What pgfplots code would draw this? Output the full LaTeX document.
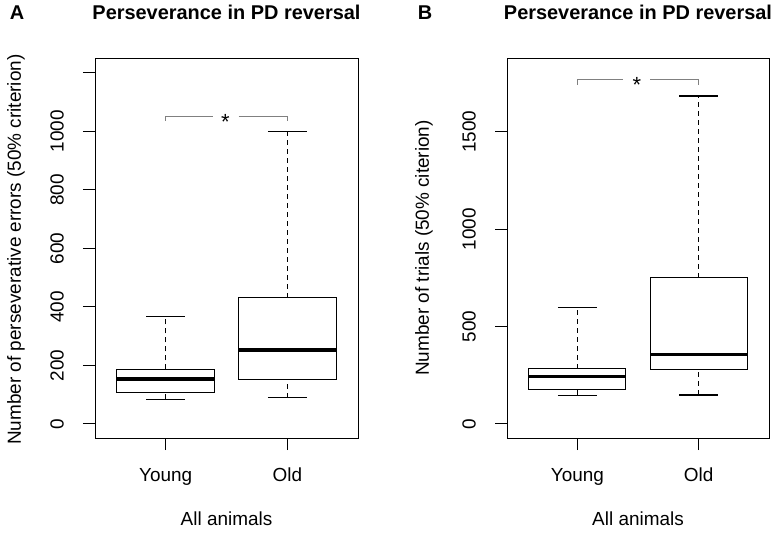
\documentclass[border=0pt]{standalone}
\usepackage{fontspec}
\setmainfont{Liberation Sans}
\usepackage{pgfplots}
\pgfplotsset{compat=1.18}
\usepgfplotslibrary{statistics}

\pgfplotsset{
  rbox/.style={
    scale only axis, height=380bp,
    anchor=south west,
    axis line style={line width=1bp},
    xmin=0.42, xmax=2.58,
    xtick={1,2}, xticklabels={Young,Old},
    xtick pos=bottom, ytick pos=left,
    tick align=outside, major tick length=12bp,
    every tick/.style={line width=1bp, black},
    font=\fontsize{19}{22}\selectfont,
    /pgf/number format/assume math mode=true,
    /pgf/number format/1000 sep={},
    yticklabel style={rotate=90, anchor=south, inner sep=0pt},
    xticklabel style={anchor=north, inner sep=0pt},
    yticklabel shift=19bp,
    xticklabel shift=18bp,
    clip=false,
    boxplot/draw direction=y,
  },
  rplot/.style={
    black, line width=1.1bp, solid,
    boxplot/every median/.style={line width=3.6bp},
    boxplot/box extend=0.8,
    boxplot/whisker extend=0.32,
    boxplot/draw/lower whisker/.code={%
      \draw[dash pattern=on 5bp off 4bp] (boxplot box cs:\pgfplotsboxplotvalue{lower whisker},0.5) -- (boxplot box cs:\pgfplotsboxplotvalue{lower quartile},0.5);
      \draw (boxplot whisker cs:\pgfplotsboxplotvalue{lower whisker},0) -- (boxplot whisker cs:\pgfplotsboxplotvalue{lower whisker},1);
    },
    boxplot/draw/upper whisker/.code={%
      \draw[dash pattern=on 5bp off 4bp] (boxplot box cs:\pgfplotsboxplotvalue{upper quartile},0.5) -- (boxplot box cs:\pgfplotsboxplotvalue{upper whisker},0.5);
      \draw (boxplot whisker cs:\pgfplotsboxplotvalue{upper whisker},0) -- (boxplot whisker cs:\pgfplotsboxplotvalue{upper whisker},1);
    },
  },
}

\begin{document}
\begin{tikzpicture}[font=\fontsize{19}{22}\selectfont]
\path[use as bounding box] (0,0) rectangle (776bp,-536bp);

% Panel labels and titles
\node[anchor=base] at (17bp,-19bp) {\fontsize{20}{24}\selectfont\bfseries A};
\node[anchor=base] at (226.5bp,-19bp) {\fontsize{20}{24}\selectfont\bfseries Perseverance in PD reversal};
\node[anchor=base] at (425bp,-19bp) {\fontsize{20}{24}\selectfont\bfseries B};
\node[anchor=base] at (638bp,-19bp) {\fontsize{20}{24}\selectfont\bfseries Perseverance in PD reversal};

% Panel A
\begin{axis}[rbox, at={(95bp,-438bp)}, width=263bp,
  ymin=-48, ymax=1251,
  ytick={0,200,400,600,800,1000,1200},
  yticklabels={0,200,400,600,800,1000,{}},
  xlabel={All animals},
  xlabel style={at={(axis description cs:0.5,0)}, anchor=north, yshift=-74bp, inner sep=0pt},
  ylabel={Number of perseverative errors (50\% criterion)},
  ylabel style={at={(axis description cs:-0.30,0.496)}, anchor=center, inner sep=0pt},
]
\addplot[rplot, boxplot prepared={lower whisker=84, lower quartile=108, median=153, upper quartile=187, upper whisker=367, draw position=1}] coordinates {};
\addplot[rplot, boxplot prepared={lower whisker=90, lower quartile=151, median=252, upper quartile=431, upper whisker=1000, draw position=2}] coordinates {};
\addplot[gray, line width=1bp, mark=none] coordinates {(1,1036) (1,1050) (1.39,1050)};
\addplot[gray, line width=1bp, mark=none] coordinates {(1.60,1050) (2,1050) (2,1036)};
\node[yshift=-5bp] at (axis cs:1.49,1050) {\fontsize{22}{24}\selectfont *};
\end{axis}

% Panel B
\begin{axis}[rbox, at={(507bp,-438bp)}, width=262bp,
  ymin=-72, ymax=1879,
  ytick={0,500,1000,1500},
  xlabel={All animals},
  xlabel style={at={(axis description cs:0.5,0)}, anchor=north, yshift=-74bp, inner sep=0pt},
  ylabel={Number of trials (50\% citerion)},
  ylabel style={at={(axis description cs:-0.317,0.50)}, anchor=center, inner sep=0pt},
]
\addplot[rplot, boxplot prepared={lower whisker=147, lower quartile=178, median=243, upper quartile=284, upper whisker=600, draw position=1}] coordinates {};
\addplot[rplot, boxplot prepared={lower whisker=149, lower quartile=282, median=356, upper quartile=751, upper whisker=1684, draw position=2}] coordinates {};
\addplot[gray, line width=1bp, mark=none] coordinates {(1,1742) (1,1767) (1.38,1767)};
\addplot[gray, line width=1bp, mark=none] coordinates {(1.60,1767) (2,1767) (2,1742)};
\node[yshift=-5bp] at (axis cs:1.49,1767) {\fontsize{22}{24}\selectfont *};
\end{axis}
\end{tikzpicture}
\end{document}
